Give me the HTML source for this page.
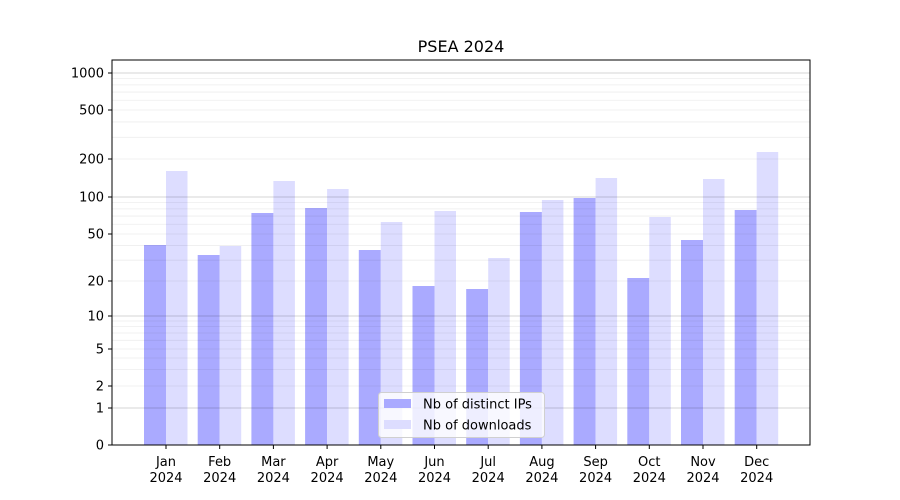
<!DOCTYPE html>
<html><head><meta charset="utf-8"><style>
html,body{margin:0;padding:0;background:#fff;width:900px;height:500px;overflow:hidden}
text{font-family:"DejaVu Sans","Liberation Sans",sans-serif;fill:#000}
</style></head><body>
<svg id="s" width="900" height="500" xmlns="http://www.w3.org/2000/svg"></svg>
<script>
const s=document.getElementById('s');
let h='';
const ticks=[[0,445],[1,408],[2,386],[5,349],[10,316],[20,281],[50,234],[100,197],[200,159],[500,110],[1000,73]];
function y(v){
  if(v<=1) return 445-37*v;
  for(let i=1;i<ticks.length-1;i++){const[a,ya]=ticks[i],[b,yb]=ticks[i+1];
    if(v<=b) return ya+(yb-ya)*Math.log(v/a)/Math.log(b/a);}
  return 73-(124)*Math.log10(v/1000);
}
const blue=[245,255,213,208,250,286,289,212,198,278,240,210];
const light=[171,246,181,189,222,211,258,200,178,217,179,152];
const m=['Jan','Feb','Mar','Apr','May','Jun','Jul','Aug','Sep','Oct','Nov','Dec'];
for(let i=0;i<12;i++){const c=166+i*53.7;
  h+=`<rect x="${c-22}" y="${blue[i]}" width="22" height="${445-blue[i]}" fill="#aaaaff"/>`;
  h+=`<rect x="${c}" y="${light[i]}" width="21.5" height="${445-light[i]}" fill="#ddddff"/>`;
  h+=`<line x1="${c}" x2="${c}" y1="445" y2="449" stroke="#000"/>`;
  h+=`<text x="${c}" y="466" font-size="13" text-anchor="middle">${m[i]}</text><text x="${c}" y="482" font-size="13" text-anchor="middle">2024</text>`;
}
// grid on top
for(const d of [1,10,100,1000]) for(let k=2;k<10;k++){const v=d*k;if(v>1500)break;const yy=y(v);if(yy<60)break;
  h+=`<line x1="112" x2="810" y1="${yy}" y2="${yy}" stroke="#000" stroke-opacity="0.07" stroke-width="0.8"/>`;}
for(const v of [1,10,100,1000]){h+=`<line x1="112" x2="810" y1="${y(v)}" y2="${y(v)}" stroke="#000" stroke-opacity="0.22" stroke-width="0.8"/>`;}
for(const [v,yy] of ticks){h+=`<line x1="108" x2="112" y1="${yy}" y2="${yy}" stroke="#000"/><text x="104" y="${yy+4.5}" font-size="13" text-anchor="end">${v}</text>`;}
h+=`<rect x="112" y="60" width="698" height="385" fill="none" stroke="#000" stroke-width="1"/>`;
h+=`<text x="461" y="52" font-size="16" text-anchor="middle">PSEA 2024</text>`;
h+=`<rect x="378.5" y="392.5" width="166" height="45" rx="3" fill="#fff" fill-opacity="0.8" stroke="#d0d0d0"/>`;
h+=`<rect x="384" y="399" width="27" height="9" fill="#aaaaff"/><text x="423" y="408.5" font-size="13">Nb of distinct IPs</text>`;
h+=`<rect x="384" y="420" width="27" height="9" fill="#ddddff"/><text x="423" y="429.5" font-size="13">Nb of downloads</text>`;
s.innerHTML=h;
</script>
</body></html>
